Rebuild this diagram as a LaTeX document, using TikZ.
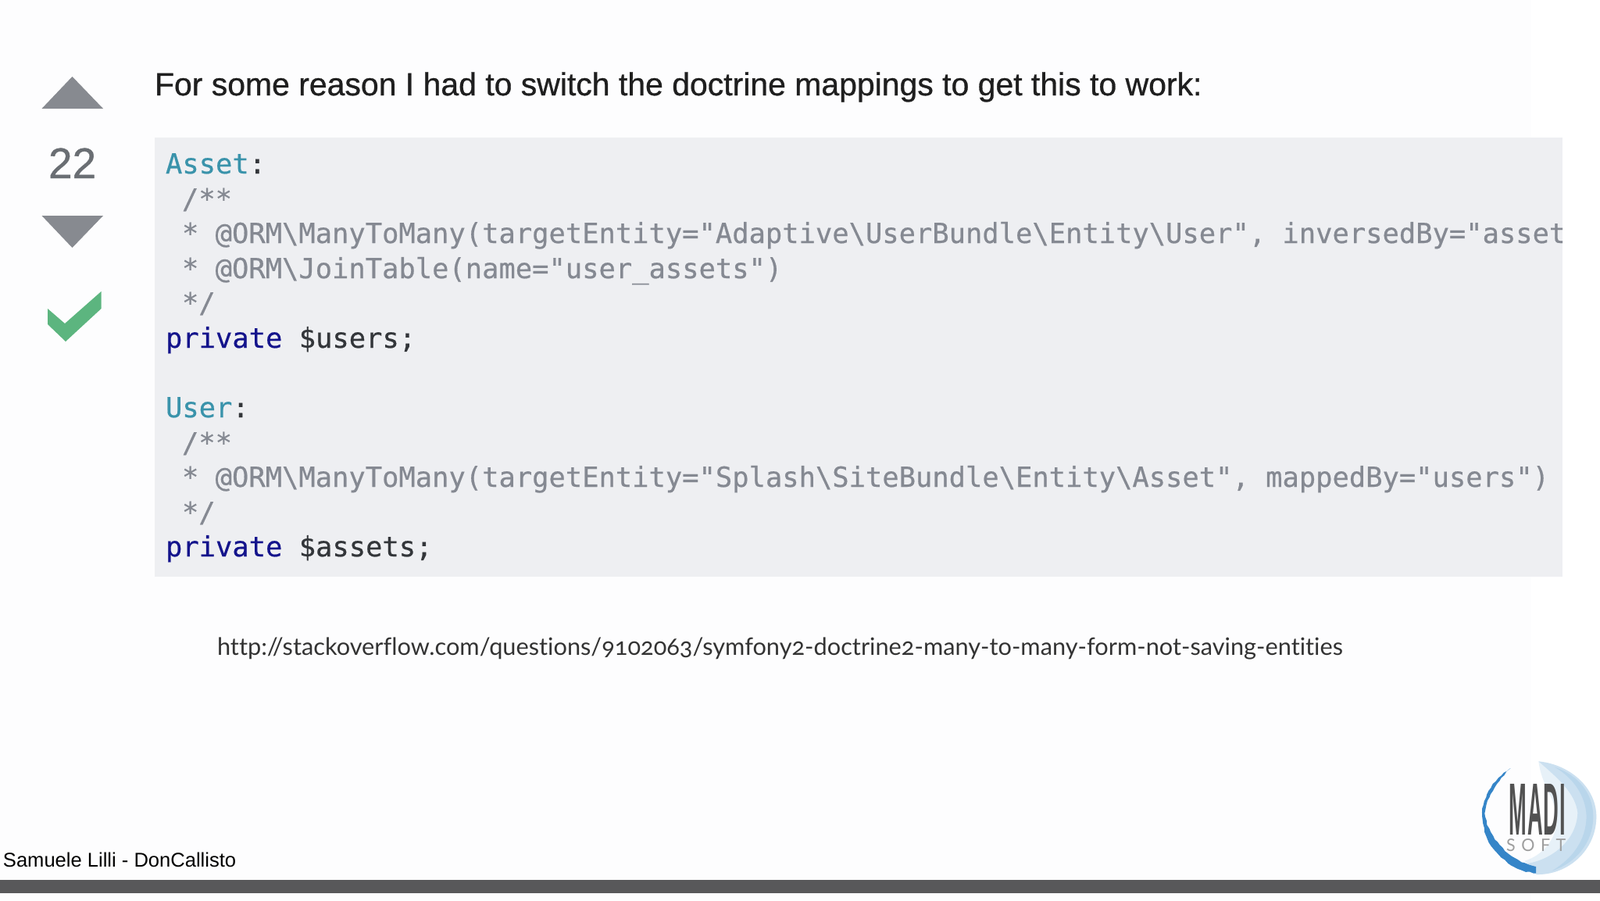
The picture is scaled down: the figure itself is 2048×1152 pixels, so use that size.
\documentclass[tikz,border=0pt]{standalone}
\usepackage{fontspec}
\usepackage{graphicx}
\usetikzlibrary{decorations.pathmorphing}
\setmainfont{Liberation Sans}
\newfontfamily\headfont[FakeBold=0.7]{Liberation Sans}
\newfontfamily\codefont[FakeBold=0.5]{DejaVu Sans Mono}
\newfontfamily\urlfont[Numbers=OldStyle,Ligatures=NoCommon]{Lato}
\definecolor{pagebg}{HTML}{FDFDFE}
\definecolor{codebg}{HTML}{EEEFF2}
\definecolor{votegray}{HTML}{878A90}
\definecolor{countgray}{HTML}{6A6E73}
\definecolor{acceptgreen}{HTML}{5CB57F}
\definecolor{cmtgray}{HTML}{858992}
\definecolor{typeteal}{HTML}{3A93AB}
\definecolor{kwnavy}{HTML}{14148C}
\definecolor{plaincode}{HTML}{33363A}
\definecolor{barcolor}{HTML}{58585A}
\definecolor{logoblue}{HTML}{3585C8}
\definecolor{logowash}{HTML}{A9CDE8}
\tikzset{
  txt/.style={anchor=base west,inner sep=0pt,outer sep=0pt},
  code/.style={txt,font=\codefont\fontsize{35.45}{35.45}\selectfont,text=plaincode},
  cmt/.style={code,text=cmtgray},
}
\newcommand{\bs}{\textbackslash}
\begin{document}
\begin{tikzpicture}[x=1pt,y=-1pt]
\useasboundingbox (0,0) rectangle (2048,1152);
\fill[pagebg] (0,0) rectangle (2048,1152);
\fill[white] (1960,0) rectangle (2048,1152);
% vote column
\fill[votegray] (53.5,139) -- (92.5,98) -- (132,139) -- cycle;
\fill[votegray] (53.5,276) -- (132,276) -- (92.5,317) -- cycle;
\fill[acceptgreen] (61,395) -- (83,414) -- (129.5,373) -- (129.5,395) -- (84,437) -- (61,415) -- cycle;
\node[txt,font=\headfont\fontsize{55}{55}\selectfont,text=countgray] (votes) at (62,228) {22};
% heading
\node[txt,font=\headfont\fontsize{40.95}{40.95}\selectfont,text=black!88] (head) at (198,122) {For some reason I had to switch the doctrine mappings to get this to work:};
% code box
\fill[codebg] (198,176) rectangle (2000,738);
\begin{scope}
\clip (198,176) rectangle (2000,738);
\node[code] (l1) at (212,222) {\textcolor{typeteal}{Asset}:};
\node[cmt] (l2) at (233,267) {/**};
\node[cmt] (l3) at (233,311) {* @ORM\bs{}ManyToMany(targetEntity="Adaptive\bs{}UserBundle\bs{}Entity\bs{}User", inversedBy="asset};
\node[cmt] (l4) at (233,356) {* @ORM\bs{}JoinTable(name="user\_assets")};
\node[cmt] (l5) at (233,400) {*/};
\node[code] (l6) at (212,445) {\textcolor{kwnavy}{private} \$users;};
\node[code] (l7) at (212,534) {\textcolor{typeteal}{User}:};
\node[cmt] (l8) at (233,579) {/**};
\node[cmt] (l9) at (233,623) {* @ORM\bs{}ManyToMany(targetEntity="Splash\bs{}SiteBundle\bs{}Entity\bs{}Asset", mappedBy="users")};
\node[cmt] (l10) at (233,668) {*/};
\node[code] (l11) at (212,712) {\textcolor{kwnavy}{private} \$assets;};
\end{scope}
% url
\node[txt,font=\urlfont\fontsize{30.74}{30.74}\selectfont,text=black!80] (url) at (278,838) {http://stackoverflow.com/questions/9102063/symfony2-doctrine2-many-to-many-form-not-saving-entities};
% footer
\node[txt,font=\fontsize{25.55}{25.55}\selectfont,text=black] (author) at (4,1109) {Samuele Lilli - DonCallisto};
\fill[barcolor] (0,1126) rectangle (2048,1143);
% logo (coordinates in thirds of a pixel, from the logo's corner)
\begin{scope}[shift={(1890,965)},x=0.3333pt,y=-0.3333pt]
\fill[logowash,opacity=.28] (238,28) .. controls (360,40) and (460,130) .. (460,240)
  .. controls (460,370) and (350,465) .. (230,462)
  .. controls (215,440) and (190,425) .. (185,410)
  .. controls (250,390) and (310,330) .. (310,240)
  .. controls (300,170) and (250,120) .. (238,28) -- cycle;
\fill[logowash,opacity=.45] (238,28) .. controls (360,40) and (460,130) .. (460,240)
  .. controls (460,370) and (350,465) .. (230,462)
  .. controls (225,445) and (210,430) .. (195,420)
  .. controls (290,405) and (385,330) .. (388,225)
  .. controls (380,150) and (310,90) .. (238,28) -- cycle;
\fill[logowash,opacity=.5] (300,50) .. controls (390,80) and (448,150) .. (448,240)
  .. controls (448,340) and (380,420) .. (290,448)
  .. controls (370,400) and (420,330) .. (422,240)
  .. controls (420,160) and (370,90) .. (300,50) -- cycle;
\fill[logoblue,decorate,decoration={random steps,segment length=5pt,amplitude=0.8pt}]
  (130,55) .. controls (80,85) and (20,150) .. (22,240)
  .. controls (25,340) and (100,440) .. (228,458)
  -- (228,432)
  .. controls (140,418) and (48,330) .. (34,240)
  .. controls (30,170) and (85,95) .. (130,55) -- cycle;
\end{scope}
\node[anchor=north west,inner sep=0pt,text=black!68,font=\bfseries] (madi) at (1931,1003) {\resizebox{73pt}{65pt}{M\kern.04em A\kern.04em D\kern.04em I}};
\node[anchor=north west,inner sep=0pt,text=black!38,font=\urlfont] (soft) at (1928,1073) {\resizebox{76pt}{16pt}{S\kern.35em O\kern.35em F\kern.35em T}};
\end{tikzpicture}
\end{document}
